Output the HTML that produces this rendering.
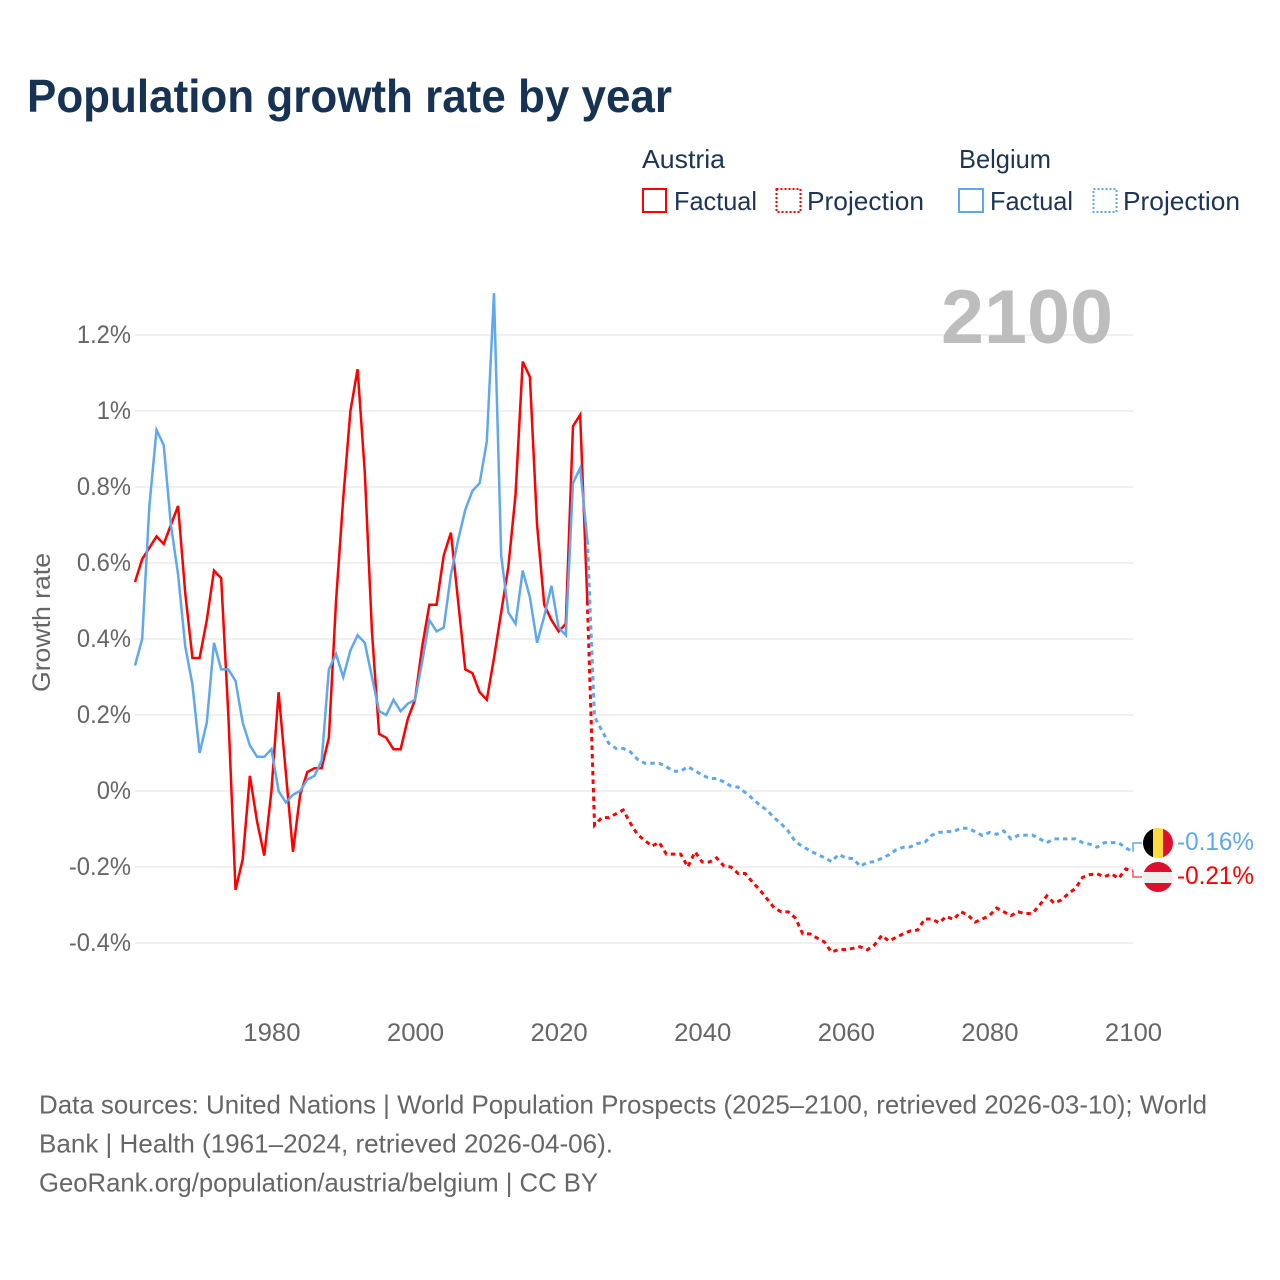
<!DOCTYPE html>
<html lang="en">
<head>
<meta charset="utf-8">
<title>Population growth rate by year</title>
<style>
html,body{margin:0;padding:0;background:#fff;width:1280px;height:1280px;overflow:hidden}
svg{display:block;font-family:"Liberation Sans",sans-serif}
</style>
</head>
<body>
<svg id="chart" width="1280" height="1280" viewBox="0 0 1280 1280" xmlns="http://www.w3.org/2000/svg">
  <text x="27" y="112" font-size="46" font-weight="700" fill="#173354" textLength="645" lengthAdjust="spacingAndGlyphs">Population growth rate by year</text>

  <g font-size="26" fill="#1c3557">
    <text x="642" y="168" textLength="83" lengthAdjust="spacingAndGlyphs">Austria</text>
    <rect x="643" y="189" width="23" height="23" fill="none" stroke="#ff0000" stroke-width="2"/>
    <text x="674" y="210" textLength="83" lengthAdjust="spacingAndGlyphs">Factual</text>
    <rect x="776.5" y="189" width="24" height="23" fill="none" stroke="#ff0000" stroke-width="2" stroke-dasharray="2 2"/>
    <text x="807" y="210" textLength="117" lengthAdjust="spacingAndGlyphs">Projection</text>
    <text x="959" y="168" textLength="92" lengthAdjust="spacingAndGlyphs">Belgium</text>
    <rect x="959" y="189" width="24" height="23" fill="none" stroke="#5fa8ee" stroke-width="2"/>
    <text x="990" y="210" textLength="83" lengthAdjust="spacingAndGlyphs">Factual</text>
    <rect x="1093.5" y="189" width="23" height="23" fill="none" stroke="#5fa8ee" stroke-width="2" stroke-dasharray="2 2"/>
    <text x="1123" y="210" textLength="117" lengthAdjust="spacingAndGlyphs">Projection</text>
  </g>

  <g id="grid"></g>
  <g id="y-ticks"></g>
  <g id="x-ticks"></g>

  <text x="941" y="343" font-size="76" font-weight="700" fill="#bdbdbd" textLength="172" lengthAdjust="spacingAndGlyphs">2100</text>

  <text transform="translate(50,622.5) rotate(-90)" text-anchor="middle" font-size="25" fill="#666666" textLength="139" lengthAdjust="spacingAndGlyphs">Growth rate</text>

  <g id="series"></g>

  <g>
    <clipPath id="flag-be"><circle cx="1158" cy="843" r="15"/></clipPath>
    <g clip-path="url(#flag-be)">
      <rect x="1143" y="828" width="10" height="30" fill="#000000"/>
      <rect x="1153" y="828" width="10" height="30" fill="#fdda3c"/>
      <rect x="1163" y="828" width="10" height="30" fill="#de0f2c"/>
    </g>
  </g>
  <g>
    <clipPath id="flag-at"><circle cx="1158" cy="877" r="15"/></clipPath>
    <g clip-path="url(#flag-at)">
      <rect x="1143" y="862" width="30" height="10" fill="#de0f2c"/>
      <rect x="1143" y="872" width="30" height="11" fill="#eeeeee"/>
      <rect x="1143" y="883" width="30" height="10" fill="#de0f2c"/>
    </g>
  </g>
  <text x="1177" y="850" font-size="25" fill="#5fa8ee" textLength="77" lengthAdjust="spacingAndGlyphs">-0.16%</text>
  <text x="1177" y="884" font-size="25" fill="#ff0000" textLength="77" lengthAdjust="spacingAndGlyphs">-0.21%</text>

  <g font-size="26" fill="#666666">
    <text x="39" y="1113.5" textLength="1168" lengthAdjust="spacingAndGlyphs">Data sources: United Nations | World Population Prospects (2025–2100, retrieved 2026-03-10); World</text>
    <text x="39" y="1152.5" textLength="574" lengthAdjust="spacingAndGlyphs">Bank | Health (1961–2024, retrieved 2026-04-06).</text>
    <text x="39" y="1191.5" textLength="559" lengthAdjust="spacingAndGlyphs">GeoRank.org/population/austria/belgium | CC BY</text>
  </g>
</svg>
<script>
var factualStartYear = 1961;
var projectionStartYear = 2024;
var yTicks = [-0.4, -0.2, 0, 0.2, 0.4, 0.6, 0.8, 1, 1.2];
var yTickLabels = ['-0.4%', '-0.2%', '0%', '0.2%', '0.4%', '0.6%', '0.8%', '1%', '1.2%'];
var xTicks = [1980, 2000, 2020, 2040, 2060, 2080, 2100];
var austriaFactual = [0.55,0.61,0.64,0.67,0.65,0.70,0.75,0.52,0.35,0.35,0.45,0.58,0.56,0.20,-0.26,-0.18,0.04,-0.08,-0.17,0.00,0.26,0.05,-0.16,-0.01,0.05,0.06,0.06,0.14,0.50,0.77,1.00,1.11,0.84,0.42,0.15,0.14,0.11,0.11,0.19,0.24,0.38,0.49,0.49,0.62,0.68,0.50,0.32,0.31,0.26,0.24,0.35,0.47,0.59,0.78,1.13,1.09,0.70,0.49,0.45,0.42,0.44,0.96,0.99,0.50];
var belgiumFactual = [0.33,0.40,0.75,0.95,0.91,0.70,0.57,0.38,0.28,0.10,0.18,0.39,0.32,0.32,0.29,0.18,0.12,0.09,0.09,0.11,0.00,-0.03,-0.01,0.00,0.03,0.04,0.08,0.32,0.36,0.30,0.37,0.41,0.39,0.30,0.21,0.20,0.24,0.21,0.23,0.24,0.34,0.45,0.42,0.43,0.57,0.66,0.74,0.79,0.81,0.92,1.31,0.62,0.47,0.44,0.58,0.51,0.39,0.46,0.54,0.43,0.41,0.81,0.85,0.66];
var austriaProjection = [0.50,-0.09,-0.07,-0.07,-0.06,-0.05,-0.085,-0.115,-0.13,-0.145,-0.135,-0.166,-0.166,-0.166,-0.20,-0.16,-0.187,-0.187,-0.176,-0.197,-0.20,-0.217,-0.217,-0.24,-0.26,-0.283,-0.307,-0.318,-0.318,-0.335,-0.376,-0.376,-0.387,-0.397,-0.424,-0.417,-0.417,-0.414,-0.41,-0.418,-0.405,-0.38,-0.395,-0.385,-0.376,-0.368,-0.366,-0.337,-0.337,-0.347,-0.33,-0.338,-0.318,-0.326,-0.345,-0.337,-0.328,-0.308,-0.318,-0.328,-0.318,-0.323,-0.322,-0.30,-0.276,-0.295,-0.287,-0.27,-0.256,-0.227,-0.22,-0.218,-0.226,-0.218,-0.23,-0.205,-0.21];
var belgiumProjection = [0.66,0.195,0.16,0.125,0.112,0.112,0.103,0.083,0.073,0.073,0.073,0.064,0.052,0.052,0.064,0.053,0.042,0.033,0.033,0.024,0.013,0.01,-0.004,-0.02,-0.037,-0.05,-0.07,-0.086,-0.106,-0.134,-0.146,-0.157,-0.167,-0.175,-0.186,-0.167,-0.176,-0.178,-0.198,-0.188,-0.186,-0.177,-0.168,-0.155,-0.148,-0.147,-0.138,-0.135,-0.116,-0.109,-0.107,-0.107,-0.098,-0.098,-0.107,-0.117,-0.109,-0.114,-0.105,-0.126,-0.117,-0.116,-0.116,-0.126,-0.136,-0.126,-0.126,-0.126,-0.126,-0.136,-0.14,-0.148,-0.136,-0.136,-0.136,-0.15,-0.16];

var NS = 'http://www.w3.org/2000/svg';
function xScale(year) { return 135 + (year - 1961) * (998 / 139); }
function yScale(value) { return 791 - value * 380; }
function labelWidth(text) {
  var w = 0;
  for (var i = 0; i < text.length; i++) {
    var c = text[i];
    w += c === '.' ? 5.5 : c === '%' ? 20 : c === '-' ? 8 : 14.3;
  }
  return w;
}
function linePath(values, startYear) {
  var d = '';
  for (var i = 0; i < values.length; i++) {
    d += (i ? 'L' : 'M') + xScale(startYear + i).toFixed(2) + ' ' + yScale(values[i]).toFixed(2);
  }
  return d;
}

var grid = document.getElementById('grid');
var yGroup = document.getElementById('y-ticks');
var xGroup = document.getElementById('x-ticks');
var seriesGroup = document.getElementById('series');

yTicks.forEach(function (tick, i) {
  var line = document.createElementNS(NS, 'line');
  line.setAttribute('x1', 135);
  line.setAttribute('x2', 1133);
  line.setAttribute('y1', yScale(tick));
  line.setAttribute('y2', yScale(tick));
  line.setAttribute('stroke', '#ececec');
  line.setAttribute('stroke-width', '1.5');
  
  
  grid.appendChild(line);

  var label = document.createElementNS(NS, 'text');
  label.textContent = yTickLabels[i];
  label.setAttribute('x', 131);
  label.setAttribute('y', yScale(tick) + 8);
  label.setAttribute('text-anchor', 'end');
  label.setAttribute('font-size', '25');
  label.setAttribute('fill', '#666666');
  label.setAttribute('textLength', labelWidth(yTickLabels[i]));
  label.setAttribute('lengthAdjust', 'spacingAndGlyphs');
  
  
  yGroup.appendChild(label);
});

xTicks.forEach(function (tick) {
  var label = document.createElementNS(NS, 'text');
  label.textContent = String(tick);
  label.setAttribute('x', xScale(tick) + 0.5);
  label.setAttribute('y', 1041);
  label.setAttribute('text-anchor', 'middle');
  label.setAttribute('font-size', '25');
  label.setAttribute('fill', '#666666');
  label.setAttribute('textLength', labelWidth(String(tick)));
  label.setAttribute('lengthAdjust', 'spacingAndGlyphs');
  
  
  xGroup.appendChild(label);
});

var austriaColor = '#ff0000';
var belgiumColor = '#5fa8ee';

var austriaProjectionLine = document.createElementNS(NS, 'path');
austriaProjectionLine.setAttribute('d', linePath(austriaProjection, projectionStartYear));
austriaProjectionLine.setAttribute('fill', 'none');
austriaProjectionLine.setAttribute('stroke', austriaColor);
austriaProjectionLine.setAttribute('stroke-width', '3');
austriaProjectionLine.setAttribute('stroke-dasharray', '4.5 4');


seriesGroup.appendChild(austriaProjectionLine);

var austriaFactualLine = document.createElementNS(NS, 'path');
austriaFactualLine.setAttribute('d', linePath(austriaFactual, factualStartYear));
austriaFactualLine.setAttribute('fill', 'none');
austriaFactualLine.setAttribute('stroke', austriaColor);
austriaFactualLine.setAttribute('stroke-width', '2.5');


seriesGroup.appendChild(austriaFactualLine);

var belgiumProjectionLine = document.createElementNS(NS, 'path');
belgiumProjectionLine.setAttribute('d', linePath(belgiumProjection, projectionStartYear));
belgiumProjectionLine.setAttribute('fill', 'none');
belgiumProjectionLine.setAttribute('stroke', belgiumColor);
belgiumProjectionLine.setAttribute('stroke-width', '3');
belgiumProjectionLine.setAttribute('stroke-dasharray', '4.5 4');


seriesGroup.appendChild(belgiumProjectionLine);

var belgiumFactualLine = document.createElementNS(NS, 'path');
belgiumFactualLine.setAttribute('d', linePath(belgiumFactual, factualStartYear));
belgiumFactualLine.setAttribute('fill', 'none');
belgiumFactualLine.setAttribute('stroke', belgiumColor);
belgiumFactualLine.setAttribute('stroke-width', '2.5');


seriesGroup.appendChild(belgiumFactualLine);

var belgiumEndY = yScale(belgiumProjection[belgiumProjection.length - 1]);
var austriaEndY = yScale(austriaProjection[austriaProjection.length - 1]);

var belgiumConnector = document.createElementNS(NS, 'path');
belgiumConnector.setAttribute('d', 'M' + xScale(2100) + ' ' + belgiumEndY + 'V843H1142');
belgiumConnector.setAttribute('fill', 'none');
belgiumConnector.setAttribute('stroke', belgiumColor);
belgiumConnector.setAttribute('stroke-width', '1.5');


seriesGroup.appendChild(belgiumConnector);

var austriaConnector = document.createElementNS(NS, 'path');
austriaConnector.setAttribute('d', 'M' + xScale(2100) + ' ' + austriaEndY + 'V877H1142');
austriaConnector.setAttribute('fill', 'none');
austriaConnector.setAttribute('stroke', '#ff5555');
austriaConnector.setAttribute('stroke-width', '1.5');


seriesGroup.appendChild(austriaConnector);
</script>
</body>
</html>
